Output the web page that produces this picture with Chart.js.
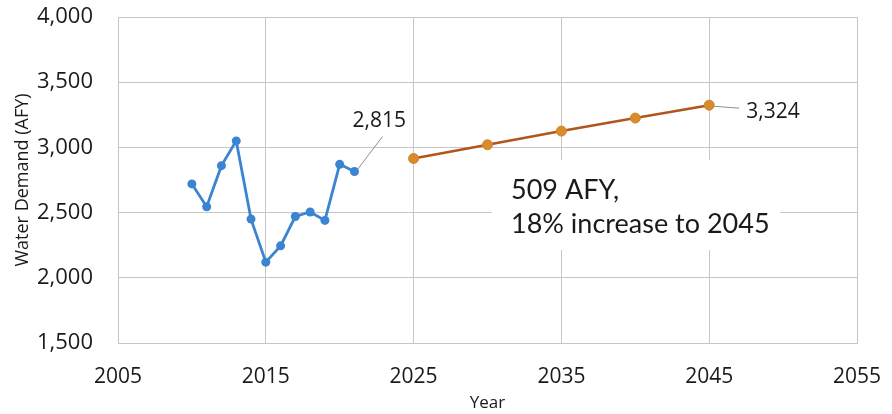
<!DOCTYPE html>
<html>
<head>
<meta charset="utf-8">
<script src="https://cdn.jsdelivr.net/npm/chart.js@4.4.1/dist/chart.umd.min.js"></script>
<style>
  html, body { margin: 0; padding: 0; background: #ffffff; }
  #wrap { width: 892px; height: 414px; position: relative; }
</style>
</head>
<body>
<div id="wrap"><canvas id="chart" width="892" height="414"></canvas></div>
<script>
// Historical water demand (AFY)
const histYears = [2010, 2011, 2012, 2013, 2014, 2015, 2016, 2017, 2018, 2019, 2020, 2021];
const histDemand = [2720, 2545, 2860, 3050, 2450, 2120, 2245, 2470, 2505, 2440, 2870, 2815];

// Projected water demand (AFY)
const projYears = [2025, 2030, 2035, 2040, 2045];
const projDemand = [2915, 3020, 3125, 3225, 3324];

// Axis ticks
const xTicks = [2005, 2015, 2025, 2035, 2045, 2055];
const yTicks = [1500, 2000, 2500, 3000, 3500, 4000];

const noteLines = ['509 AFY,', '18% increase to 2045'];

const fmt = v => v.toLocaleString('en-US');
const tickFont = { family: '"Open Sans", sans-serif', size: 21 };
const gridColor = '#c6c6c6';

// keep edge tick labels from pushing the plot area inward
const noEdgePadding = s => {
  s.paddingTop = 0; s.paddingBottom = 0; s.paddingLeft = 0; s.paddingRight = 0;
};

// Call-out labels, text box and leader lines
const calloutPlugin = {
  id: 'callouts',
  beforeDatasetsDraw(chart) {
    const { ctx } = chart;
    ctx.save();
    // white note box over the gridlines
    ctx.fillStyle = '#ffffff';
    ctx.fillRect(492, 160, 288, 90);
    ctx.fillStyle = '#1a1a1a';
    ctx.font = '27px Lato, sans-serif';
    ctx.textAlign = 'left';
    ctx.textBaseline = 'alphabetic';
    ctx.fillText(noteLines[0], 511, 199);
    ctx.fillText(noteLines[1], 511, 233);
    ctx.restore();
  },
  afterDatasetsDraw(chart) {
    const { ctx, scales } = chart;
    const xs = scales.x, ys = scales.y;
    ctx.save();
    ctx.font = '21px "Open Sans", sans-serif';
    ctx.fillStyle = '#1a1a1a';
    ctx.strokeStyle = '#8a8f96';
    ctx.lineWidth = 1;

    // last historical value
    const hi = histYears.length - 1;
    const hx = xs.getPixelForValue(histYears[hi]);
    const hy = ys.getPixelForValue(histDemand[hi]);
    ctx.beginPath();
    ctx.moveTo(hx + 3, hy - 2);
    ctx.lineTo(hx + 28, hy - 35);
    ctx.stroke();
    ctx.textAlign = 'left';
    ctx.textBaseline = 'alphabetic';
    ctx.fillText(fmt(histDemand[hi]), hx - 2, hy - 45);

    // final projected value
    const pi = projYears.length - 1;
    const px = xs.getPixelForValue(projYears[pi]);
    const py = ys.getPixelForValue(projDemand[pi]);
    ctx.beginPath();
    ctx.moveTo(px + 3, py + 1);
    ctx.lineTo(px + 30, py + 3);
    ctx.stroke();
    ctx.fillText(fmt(projDemand[pi]), px + 37, py + 13);
    ctx.restore();
  }
};

new Chart(document.getElementById('chart'), {
  type: 'line',
  data: {
    datasets: [
      {
        label: 'Historical',
        data: histYears.map((y, i) => ({ x: y, y: histDemand[i] })),
        borderColor: '#3b84d2',
        backgroundColor: '#3b84d2',
        borderWidth: 2.8,
        pointRadius: 4.5,
        pointHoverRadius: 4.5,
        pointBorderWidth: 0,
        tension: 0
      },
      {
        label: 'Projected',
        data: projYears.map((y, i) => ({ x: y, y: projDemand[i] })),
        borderColor: '#b0561a',
        backgroundColor: '#d98c2e',
        pointBorderColor: '#d08427',
        borderWidth: 2.5,
        pointRadius: 5,
        pointHoverRadius: 5,
        pointBorderWidth: 1,
        tension: 0
      }
    ]
  },
  options: {
    responsive: false,
    animation: false,
    devicePixelRatio: 1,
    layout: { padding: { top: 17, right: 35, left: 0, bottom: 0 } },
    plugins: {
      legend: { display: false },
      tooltip: { enabled: false }
    },
    scales: {
      x: {
        type: 'linear',
        min: 2005,
        max: 2055,
        afterBuildTicks: s => { s.ticks = xTicks.map(v => ({ value: v })); },
        afterFit: s => { s.height = 71; noEdgePadding(s); },
        grid: { color: gridColor, lineWidth: 1, drawTicks: false },
        border: { color: gridColor },
        ticks: { color: '#1a1a1a', font: tickFont, padding: 21, maxRotation: 0, callback: v => String(v) },
        title: {
          display: true,
          text: 'Year',
          color: '#1a1a1a',
          font: { family: '"Open Sans", sans-serif', size: 17 },
          padding: { top: 0, bottom: 1 }
        }
      },
      y: {
        min: 1500,
        max: 4000,
        afterBuildTicks: s => { s.ticks = yTicks.map(v => ({ value: v })); },
        afterFit: s => { s.width = 118; noEdgePadding(s); },
        grid: { color: gridColor, lineWidth: 1, drawTicks: false },
        border: { color: gridColor },
        ticks: { color: '#1a1a1a', font: { family: '"Open Sans", sans-serif', size: 22 }, padding: 25, callback: v => fmt(v) },
        title: {
          display: true,
          text: 'Water Demand (AFY)',
          color: '#1a1a1a',
          font: { family: '"Open Sans", sans-serif', size: 18 },
          padding: { top: 12, bottom: 0 }
        }
      }
    }
  },
  plugins: [calloutPlugin]
});
</script>
</body>
</html>
